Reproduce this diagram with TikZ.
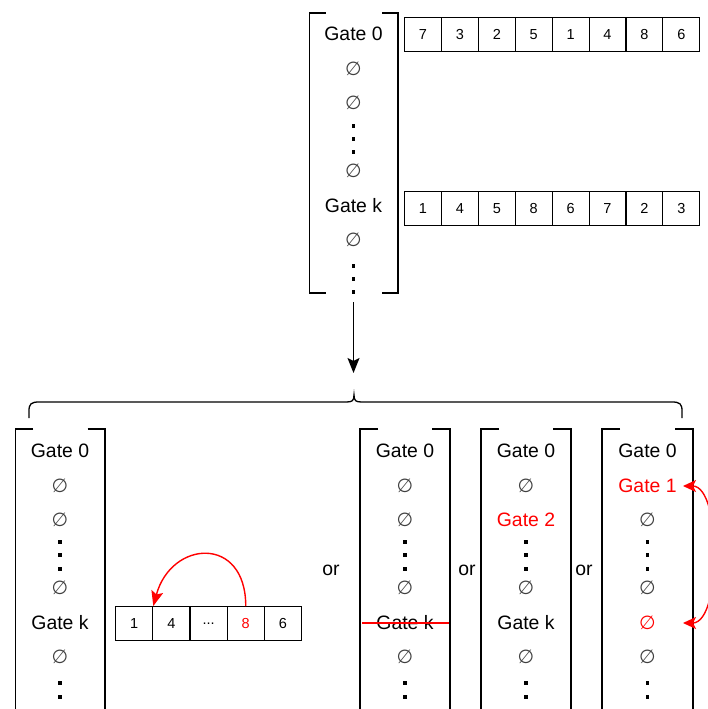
\documentclass[tikz,border=0pt]{standalone}
\usepackage{fontspec}
\setmainfont{Liberation Sans}
\newfontfamily\symfont{DejaVu Sans}
\usetikzlibrary{arrows.meta}
\newcommand\sqdot[2]{\fill (#1-1.8,#2-1.8) rectangle (#1+1.8,#2+1.8);}
\newcommand\sqbr[5]{%
  \draw[brk] (#1+#5,#3) -- (#1,#3) -- (#1,#4) -- (#1+#5,#4);
  \draw[brk] (#2-#5,#3) -- (#2,#3) -- (#2,#4) -- (#2-#5,#4);}
\begin{document}
\begin{tikzpicture}[x=1pt,y=-1pt,
  lbl/.style={font=\fontsize{19.4}{22}\selectfont, inner sep=0pt, text height=13.9pt, text depth=0pt, anchor=center},
  es/.style={font=\fontsize{19}{22}\symfont, text=black!75, inner sep=0pt, anchor=center},
  cell/.style={draw, line width=1.1pt, minimum width=36.9pt, minimum height=34pt, inner sep=0pt, anchor=north west, font=\fontsize{14.5}{16}\selectfont},
  bcell/.style={cell, minimum width=37.2pt},
  brk/.style={line width=1.5pt},
  redline/.style={red, line width=1.4pt},
  ortext/.style={font=\fontsize{19.4}{22}\selectfont, inner sep=0pt, text height=10pt, text depth=0pt, anchor=center}]
\useasboundingbox (0,0) rectangle (708,709);
\clip (0,0) rectangle (708,709);

% ---------- top bracket ----------
\sqbr{309.5}{398}{13}{293}{16}
\node[lbl] (t1) at (353.5,34) {Gate 0};
\node[es] (t2) at (353.5,69) {∅};
\node[es] (t3) at (353.5,103) {∅};
\sqdot{353.5}{126}\sqdot{353.5}{139}\sqdot{353.5}{152}
\node[es] (t4) at (353.5,171) {∅};
\node[lbl] (t5) at (353.5,206) {Gate k};
\node[es] (t6) at (353.5,240) {∅};
\sqdot{353.5}{266}\sqdot{353.5}{279}\sqdot{353.5}{292}

\foreach \n [count=\i] in {7,3,2,5,1,4,8,6}
  \node[cell] (a\i) at ({404+36.9*(\i-1)},17) {\n};
\foreach \n [count=\i] in {1,4,5,8,6,7,2,3}
  \node[cell] (k\i) at ({404+36.9*(\i-1)},191) {\n};

% ---------- arrow ----------
\coordinate (arrS) at (353.5,302);
\coordinate (arrE) at (353.5,373);
\draw[line width=1.3pt, -{Stealth[length=15pt,width=12pt,inset=3pt]}] (arrS) -- (arrE);

% ---------- brace ----------
\coordinate (brL) at (29,418);
\coordinate (brtip) at (354,395);
\coordinate (brR) at (682,418);
\draw[line width=1.3pt] (brL) -- (29,411) .. controls (29,404) and (31,402) .. (39,402)
  -- (346,402) .. controls (352,402) and (354,401) .. (brtip)
  .. controls (354,401) and (356,402) .. (362,402)
  -- (672,402) .. controls (680,402) and (682,404) .. (682,411) -- (brR);

% ---------- column 1 ----------
\sqbr{15.5}{105}{429}{720}{17.5}
\node[lbl] (p1) at (60,451) {Gate 0};
\node[es] (p2) at (60,486) {∅};
\node[es] (p3) at (60,520) {∅};
\sqdot{60}{542}\sqdot{60}{555}\sqdot{60}{569}
\node[es] (p4) at (60,588) {∅};
\node[lbl] (p5) at (60,623) {Gate k};
\node[es] (p6) at (60,657) {∅};
\sqdot{60}{683}\sqdot{60}{697}\sqdot{60}{711}

\node[bcell] (b1) at (115,606) {1};
\node[bcell] (b2) at (152.2,606) {4};
\node[bcell] (b3) at (189.4,606) {...};
\node[bcell, text=red] (b4) at (226.6,606) {8};
\node[bcell] (b5) at (263.8,606) {6};
\draw[redline, -{Stealth[length=15pt,width=12pt,inset=3pt]}]
  (b4.north) .. controls +(0,-71) and +(18,-66) .. (b1.north east);

\node[ortext] (or1) at (331,570) {or};

% ---------- column 2 ----------
\sqbr{360}{450}{429}{720}{18}
\node[lbl] (q1) at (405,451) {Gate 0};
\node[es] (q2) at (405,486) {∅};
\node[es] (q3) at (405,520) {∅};
\sqdot{405}{542}\sqdot{405}{555}\sqdot{405}{569}
\node[es] (q4) at (405,588) {∅};
\node[lbl] (q5) at (405,623) {Gate k};
\node[es] (q6) at (405,657) {∅};
\sqdot{405}{683}\sqdot{405}{697}\sqdot{405}{711}
\coordinate (strL) at (362,623);
\coordinate (strR) at (449,623);
\draw[redline] (strL) -- (strR);

\node[ortext] (or2) at (467,570) {or};

% ---------- column 3 ----------
\sqbr{481}{571}{429}{720}{18}
\node[lbl] (r1) at (526,451) {Gate 0};
\node[es] (r2) at (526,486) {∅};
\node[lbl, text=red] (r3) at (526,520) {Gate 2};
\sqdot{526}{542}\sqdot{526}{555}\sqdot{526}{569}
\node[es] (r4) at (526,588) {∅};
\node[lbl] (r5) at (526,623) {Gate k};
\node[es] (r6) at (526,657) {∅};
\sqdot{526}{683}\sqdot{526}{697}\sqdot{526}{711}

\node[ortext] (or3) at (584,570) {or};

% ---------- column 4 ----------
\sqbr{602}{693}{429}{720}{18}
\node[lbl] (s1) at (647.5,451) {Gate 0};
\node[lbl, text=red] (s2) at (647.5,486) {Gate 1};
\node[es] (s3) at (647.5,520) {∅};
\sqdot{647.5}{542}\sqdot{647.5}{555}\sqdot{647.5}{569}
\node[es] (s4) at (647.5,588) {∅};
\node[es, text=red] (s5) at (647.5,623) {∅};
\node[es] (s6) at (647.5,657) {∅};
\sqdot{647.5}{683}\sqdot{647.5}{697}\sqdot{647.5}{711}
\coordinate (swA) at (683,486);
\coordinate (swB) at (683,623);
\draw[redline, {Stealth[length=13pt,width=12pt,inset=3pt]}-{Stealth[length=13pt,width=12pt,inset=3pt]}]
  (swA) .. controls (722,486) and (722,623) .. (swB);
\end{tikzpicture}
\end{document}
